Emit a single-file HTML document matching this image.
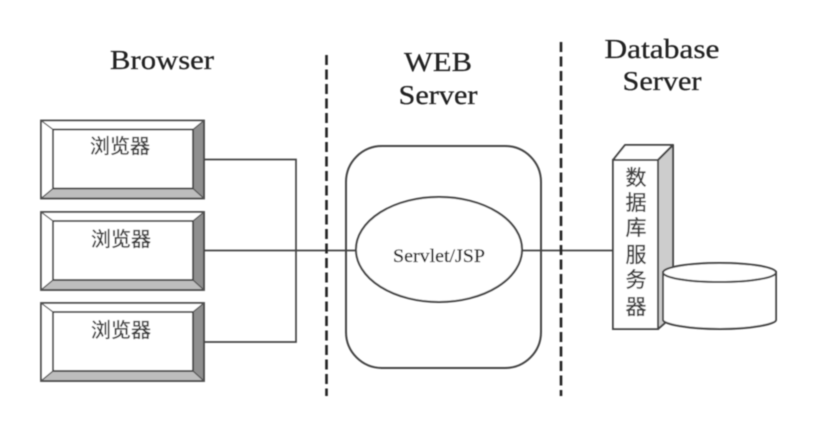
<!DOCTYPE html>
<html>
<head>
<meta charset="utf-8">
<style>
html,body{margin:0;padding:0;background:#fff;width:815px;height:427px;overflow:hidden}
svg{display:block}
.en{font-family:"Liberation Serif",serif;fill:#222;stroke:#222;stroke-width:.25}
.cn{font-family:"Liberation Sans","Noto Sans CJK SC",sans-serif;fill:#3c3c3c;stroke:#3c3c3c;stroke-width:.35}
</style>
</head>
<body>
<svg width="815" height="427" viewBox="0 0 815 427" xmlns="http://www.w3.org/2000/svg">
<defs>
<filter id="b" x="-5%" y="-5%" width="110%" height="110%"><feGaussianBlur stdDeviation="0.6"/></filter>
<g id="box">
<rect x="41" y="0" width="163" height="78" fill="#fff"/>
<polygon points="193,9 204,0 204,78 193,68" fill="#8f8f8f"/>
<polygon points="53,68 193,68 204,78 41,78" fill="#bdbdbd"/>
<rect x="41" y="0" width="163" height="78" fill="none" stroke="#444" stroke-width="1.800"/>
<rect x="53" y="9" width="140" height="59" fill="#fff" stroke="#444" stroke-width="1.800"/>
<path d="M41 0L53 9M204 0L193 9M41 78L53 68M204 78L193 68" stroke="#555" stroke-width="1.200" fill="none"/>
</g>
</defs>
<rect width="815" height="427" fill="#fff"/>
<g filter="url(#b)">
<use href="#box" y="120.500"/>
<use href="#box" y="212"/>
<use href="#box" y="303"/>

<g fill="none" stroke="#444" stroke-width="1.700">
<path d="M204 159.500H296V342H204"/>
<path d="M204 250.500H357"/>
<path d="M521 250.500H613"/>
</g>

<path d="M326.500 55V396M561 42V396" stroke="#222" stroke-width="2.600" stroke-dasharray="10 4.500" fill="none"/>

<rect x="346" y="146" width="195" height="222" rx="36" ry="36" fill="none" stroke="#444" stroke-width="2"/>
<ellipse cx="439" cy="249.500" rx="83" ry="52.500" fill="#fff" stroke="#444" stroke-width="2"/>

<polygon points="613,160 625,145 673,145 658,160" fill="#fff" stroke="#444" stroke-width="2" stroke-linejoin="round"/>
<polygon points="658,160 673,145 673,316 658,329" fill="#cdcdcd" stroke="#444" stroke-width="2" stroke-linejoin="round"/>
<rect x="613" y="160" width="45" height="169" fill="#fff" stroke="#444" stroke-width="2"/>

<path d="M663 272V320C663 324 688 329 720 329C752 329 776 324 776 320V272Z" fill="#fff" stroke="#444" stroke-width="2"/>
<ellipse cx="719.500" cy="272.500" rx="56.500" ry="9.500" fill="#fff" stroke="#444" stroke-width="2"/>

<text class="en" x="162" y="69" font-size="27" text-anchor="middle" textLength="104" lengthAdjust="spacingAndGlyphs">Browser</text>
<text class="en" x="438" y="71" font-size="27" text-anchor="middle" textLength="68" lengthAdjust="spacingAndGlyphs">WEB</text>
<text class="en" x="438" y="104" font-size="27" text-anchor="middle" textLength="79" lengthAdjust="spacingAndGlyphs">Server</text>
<text class="en" x="662" y="58" font-size="27" text-anchor="middle" textLength="115" lengthAdjust="spacingAndGlyphs">Database</text>
<text class="en" x="662" y="90" font-size="27" text-anchor="middle" textLength="79" lengthAdjust="spacingAndGlyphs">Server</text>
<text class="en" x="439" y="262" font-size="19" text-anchor="middle" textLength="92" lengthAdjust="spacingAndGlyphs">Servlet/JSP</text>

<text class="cn" x="120" y="153" font-size="20" text-anchor="middle">浏览器</text>
<text class="cn" x="121" y="246" font-size="20" text-anchor="middle">浏览器</text>
<text class="cn" x="121" y="337" font-size="20" text-anchor="middle">浏览器</text>

<g text-anchor="middle" font-size="21">
<text class="cn" x="636" y="185">数</text>
<text class="cn" x="636" y="210">据</text>
<text class="cn" x="636" y="235">库</text>
<text class="cn" x="636" y="262">服</text>
<text class="cn" x="636" y="287">务</text>
<text class="cn" x="636" y="314">器</text>
</g>
</g>
</svg>
</body>
</html>
